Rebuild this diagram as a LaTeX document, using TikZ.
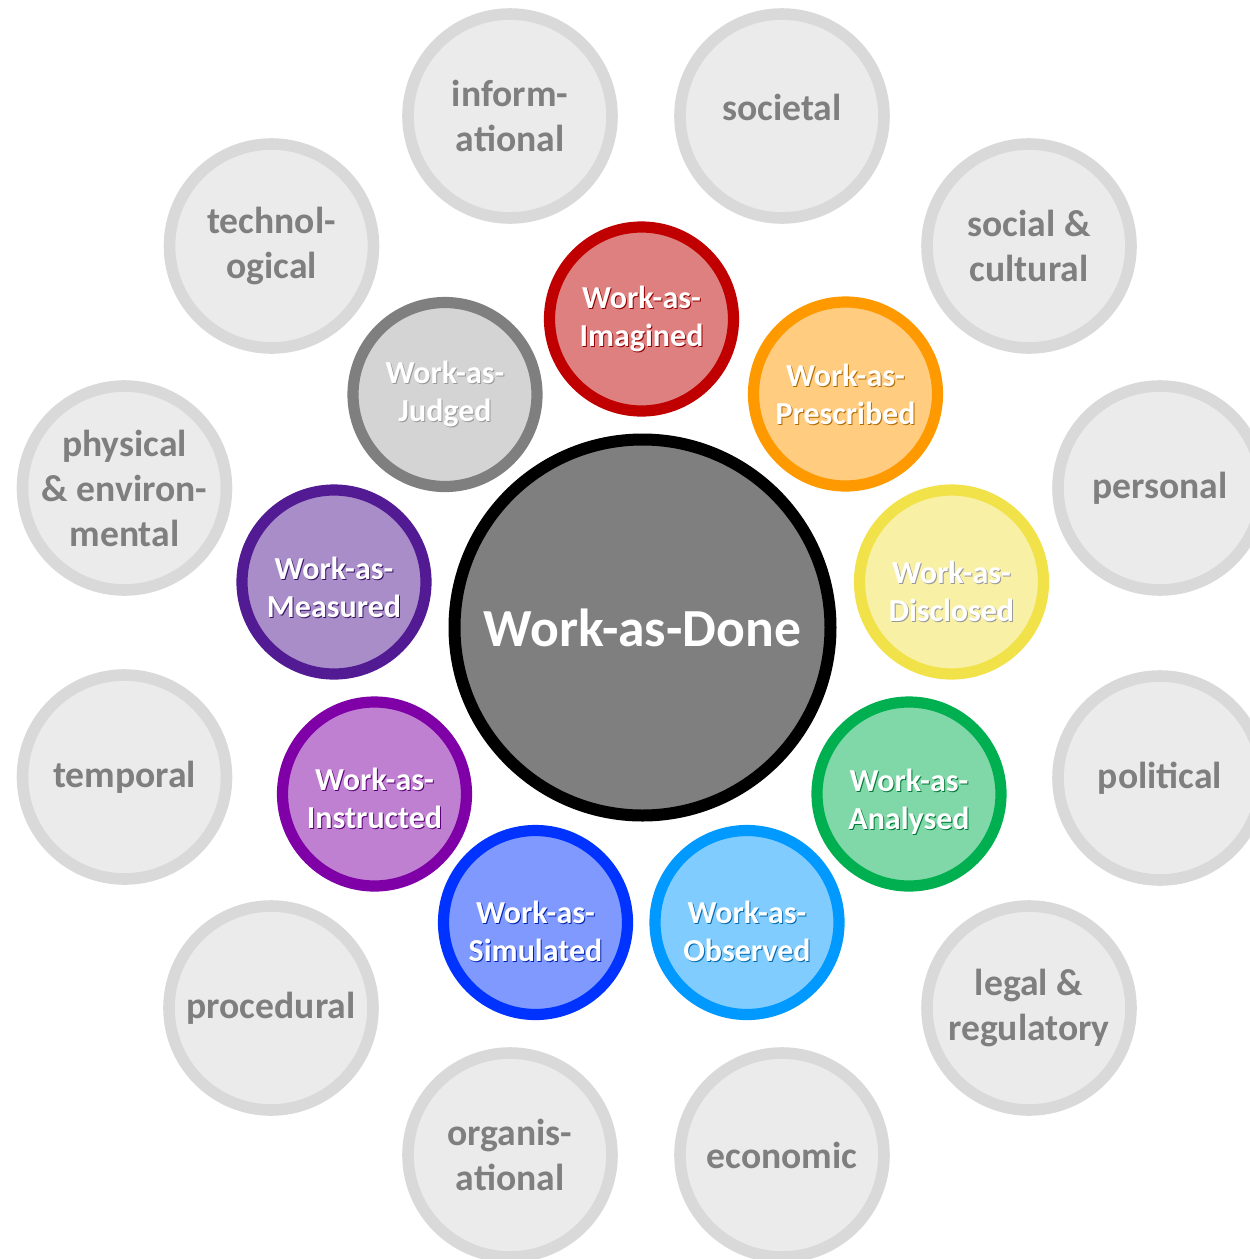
\documentclass[tikz,border=0pt]{standalone}
\usepackage{fontspec}
\setmainfont{Carlito}

\definecolor{ringgray}{HTML}{D9D9D9}
\definecolor{fillgray}{HTML}{EBEBEB}
\definecolor{txtgray}{HTML}{7F7F7F}
\definecolor{cImag}{HTML}{C00000}
\definecolor{cPres}{HTML}{FF9900}
\definecolor{cDisc}{HTML}{F2E24A}
\definecolor{cAnal}{HTML}{00B050}
\definecolor{cObs}{HTML}{0099FF}
\definecolor{cSim}{HTML}{0033FF}
\definecolor{cInst}{HTML}{7F00A6}
\definecolor{cMeas}{HTML}{521B93}
\definecolor{cJudg}{HTML}{7F7F7F}
\definecolor{fJudg}{HTML}{D4D4D4}
\definecolor{cDone}{HTML}{7F7F7F}

% white lettering with a soft dark shadow below and to the right
\newcommand\shtxt[2]{\leavevmode\rlap{\kern0.5pt\raisebox{-0.5pt}{\textcolor{#1}{#2}}}#2}

% a coloured "Work-as-..." circle: name, colour, fill, x, y, text drop (px), second word, shadow colour
\newcommand\workcircle[8]{%
  \node[wa=#2, fill=#3] (#1) at (#4,#5) {};
  \node[watext, yshift=-#6*0.5pt] (#1-t) at (#1.center)
    {\shtxt{#8}{Work-as-}\\\shtxt{#8}{#7}};
}

\begin{document}
\begin{tikzpicture}[x=0.5pt,y=-0.5pt,
  factor/.style={circle, draw=ringgray, fill=fillgray, line width=5.8pt,
    minimum size=102pt, inner sep=0pt, text=txtgray, align=center,
    font=\bfseries\fontsize{18.8}{22.5}\selectfont},
  wa/.style={circle, draw=#1, line width=5.6pt,
    minimum size=92pt, inner sep=0pt},
  watext/.style={inner sep=0pt, text=white, align=center,
    font=\bfseries\fontsize{16}{19}\selectfont},
  done/.style={circle, draw=black, fill=cDone, line width=6pt,
    minimum size=188pt, inner sep=0pt, text=white,
    font=\bfseries\fontsize{26.8}{30}\selectfont}]
\useasboundingbox (0,0) rectangle (1249,1259);

% outer ring of influencing factors
\node[factor] (info) at (510,116) {inform-\\ational};
\node[factor] (soc)  at (782,116) {\raisebox{9pt}{societal}};
\node[factor] (socc) at (1029,246) {social \&\\cultural};
\node[factor] (pers) at (1160,488) {personal};
\node[factor] (pol)  at (1160,778) {political};
\node[factor] (legal) at (1029,1008) {legal \&\\regulatory};
\node[factor] (econ) at (782,1155) {economic};
\node[factor] (org)  at (510,1155) {organis-\\ational};
\node[factor] (proc) at (271,1008) {procedural};
\node[factor] (temp) at (124.5,777) {temporal};
\node[factor] (phys) at (124.5,488) {physical\\\& environ-\\mental};
\node[factor] (tech) at (271.5,246) {technol-\\ogical};

% varieties of work
\workcircle{imag}{cImag}{cImag!50!white}{641.5}{319}{0}{Imagined}{cImag!75!black}
\workcircle{pres}{cPres}{cPres!50!white}{845.5}{394}{1}{Prescribed}{cPres!70!black}
\workcircle{disc}{cDisc}{cDisc!50!white}{951.5}{582}{10}{Disclosed}{black!40}
\workcircle{anal}{cAnal}{cAnal!50!white}{909}{794}{8}{Analysed}{cAnal!70!black}
\workcircle{obs}{cObs}{cObs!50!white}{747}{922.5}{9}{Observed}{cObs!70!black}
\workcircle{sim}{cSim}{cSim!50!white}{535.5}{922.5}{9}{Simulated}{cSim!70!black}
\workcircle{inst}{cInst}{cInst!50!white}{374.5}{794}{5}{Instructed}{cInst!70!black}
\workcircle{meas}{cMeas}{cMeas!50!white}{334}{582}{6}{Measured}{cMeas!70!black}
\workcircle{judg}{cJudg}{fJudg}{445}{394.5}{0}{Judged}{black!40}

% centre
\node[done] (wad) at (642.5,627.5) {Work-as-Done};
\end{tikzpicture}
\end{document}
